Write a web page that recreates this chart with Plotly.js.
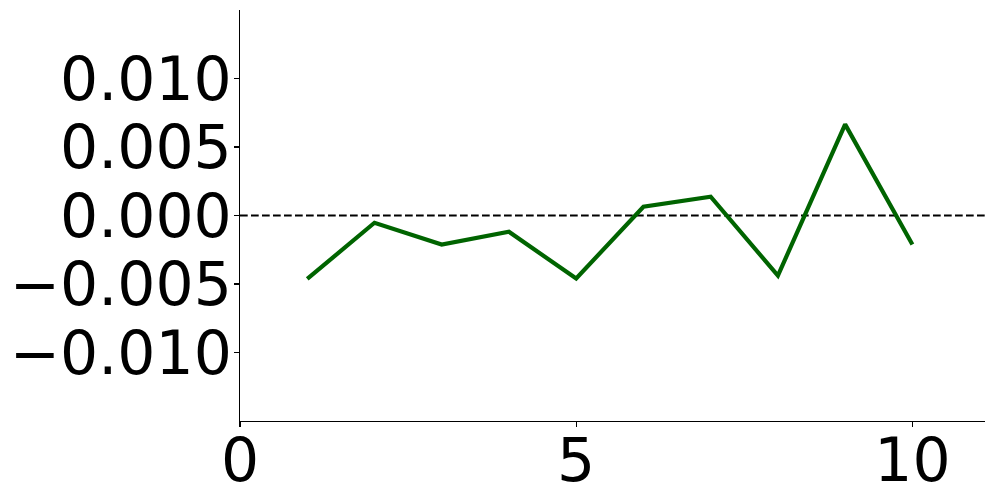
<!DOCTYPE html>
<html>
<head>
<meta charset="utf-8">
<script src="https://cdn.plot.ly/plotly-3.0.1.min.js"></script>
<style>
  html, body { margin: 0; padding: 0; background: #fff; }
  #plotArea { width: 996px; height: 500px; }
</style>
</head>
<body>
<div id="plotArea"></div>
<script>
var steps = [1, 2, 3, 4, 5, 6, 7, 8, 9, 10];
var residuals = [-0.00463, -0.00053, -0.00212, -0.00119, -0.0046, 0.00064, 0.00137, -0.00439, 0.00665, -0.00212];

var yTicks = [-0.01, -0.005, 0, 0.005, 0.01];
var yTickText = ['\u22120.010', '\u22120.005', '0.000', '0.005', '0.010'];
var xTicks = [0, 5, 10];

var trace1 = {
  x: steps,
  y: residuals,
  mode: 'lines',
  type: 'scatter',
  line: { color: '#006400', width: 4.2 },
  hoverinfo: 'skip'
};

var layout = {
  width: 996,
  height: 500,
  margin: { l: 240, r: 11, t: 10, b: 79 },
  paper_bgcolor: '#fff',
  plot_bgcolor: '#fff',
  showlegend: false,
  font: { family: 'DejaVu Sans', size: 60, color: '#000' },
  xaxis: {
    range: [0, 11.08],
    tickvals: xTicks,
    ticktext: xTicks.map(String),
    showgrid: false,
    zeroline: false,
    showline: true,
    linecolor: '#000',
    linewidth: 1.2,
    ticks: 'outside',
    ticklen: 5,
    tickwidth: 1.2,
    tickcolor: '#000',
    ticklabelstandoff: -18,
    tickfont: { family: 'DejaVu Sans', size: 60, color: '#000' }
  },
  yaxis: {
    range: [-0.015, 0.015],
    tickvals: yTicks,
    ticktext: yTickText,
    showgrid: false,
    zeroline: false,
    showline: true,
    linecolor: '#000',
    linewidth: 1.2,
    ticks: 'outside',
    ticklen: 5,
    tickwidth: 1.2,
    tickcolor: '#000',
    ticklabelstandoff: -10,
    tickfont: { family: 'DejaVu Sans', size: 60, color: '#000' }
  },
  shapes: [{
    type: 'line',
    xref: 'paper', x0: 0, x1: 1,
    yref: 'y', y0: 0, y1: 0,
    layer: 'below',
    line: { color: '#000', width: 2, dash: '7.7px,3.3px' }
  }]
};

Plotly.newPlot('plotArea', [trace1], layout, { staticPlot: true, displayModeBar: false });
</script>
</body>
</html>
